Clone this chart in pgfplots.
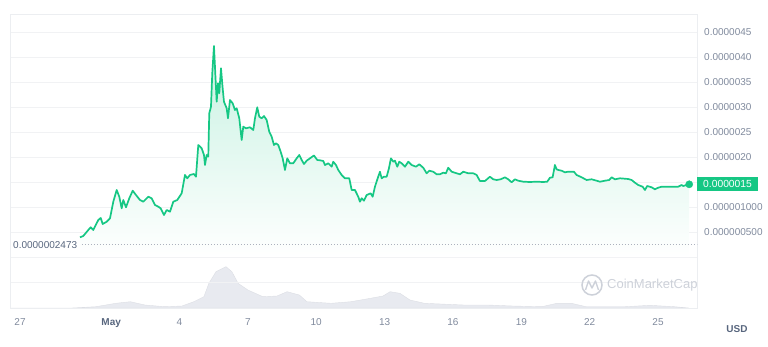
\documentclass[border=0pt]{standalone}
\usepackage{pgfplots}
\pgfplotsset{compat=1.18}
\usepackage{pgfplotstable}
\usepackage{fontspec}
\setmainfont{Liberation Sans}
\definecolor{cmcgreen}{HTML}{16C784}
\definecolor{lblgrey}{HTML}{808A9D}
\definecolor{darkgrey}{HTML}{58667E}
\definecolor{gridc}{HTML}{F1F2F4}
\definecolor{framec}{HTML}{ECEEF1}
\definecolor{volc}{HTML}{E8EAF0}
\definecolor{wm}{HTML}{CDD1D9}

\pgfplotstableread{
d v
2.633 0.394
2.777 0.42
2.997 0.54
3.102 0.594
3.216 0.54
3.436 0.74
3.541 0.78
3.629 0.66
3.804 0.706
3.949 0.774
4.094 1.106
4.243 1.34
4.357 1.206
4.462 0.974
4.533 1.14
4.651 0.994
4.796 1.174
4.945 1.326
5.090 1.24
5.265 1.14
5.410 1.106
5.630 1.206
5.779 1.174
5.924 1.04
6.068 1.006
6.174 0.974
6.319 0.84
6.437 0.94
6.582 0.906
6.727 1.106
6.902 1.14
7.095 1.274
7.240 1.64
7.341 1.574
7.459 1.64
7.635 1.66
7.723 1.606
7.824 2.24
7.973 2.174
8.074 2.04
8.118 1.84
8.192 2.04
8.262 2.006
8.306 2.874
8.381 3.006
8.438 3.674
8.512 4.22
8.570 3.674
8.631 3.106
8.688 3.474
8.745 3.274
8.820 3.774
8.894 3.374
8.951 3.106
9.070 2.974
9.127 2.774
9.215 3.14
9.333 3.074
9.434 2.94
9.509 2.974
9.623 2.774
9.728 2.34
9.798 2.606
9.917 2.574
10.092 2.594
10.237 2.54
10.312 2.774
10.412 2.994
10.500 2.806
10.606 2.774
10.706 2.82
10.825 2.74
10.939 2.506
11.044 2.406
11.145 2.24
11.233 2.274
11.334 2.24
11.439 2.106
11.527 1.974
11.628 1.74
11.729 1.974
11.847 1.874
11.992 1.874
12.141 1.974
12.256 2.04
12.361 1.94
12.462 1.86
12.580 1.926
12.725 1.974
12.900 2.03
13.045 1.94
13.164 1.934
13.309 1.92
13.383 1.84
13.528 1.874
13.677 1.806
13.747 1.906
13.866 1.84
13.967 1.74
14.116 1.64
14.261 1.574
14.450 1.574
14.555 1.34
14.699 1.34
14.844 1.206
14.919 1.106
14.993 1.174
15.094 1.126
15.213 1.24
15.389 1.274
15.476 1.206
15.577 1.406
15.696 1.574
15.796 1.706
15.871 1.574
15.972 1.606
16.091 1.606
16.191 1.774
16.279 1.974
16.380 1.906
16.455 1.926
16.556 1.806
16.643 1.906
16.749 1.874
16.894 1.806
17.038 1.906
17.187 1.84
17.376 1.806
17.521 1.854
17.696 1.786
17.846 1.674
17.960 1.726
18.135 1.706
18.284 1.654
18.429 1.654
18.574 1.686
18.692 1.674
18.793 1.786
18.943 1.706
19.162 1.674
19.307 1.654
19.452 1.706
19.671 1.674
19.891 1.674
20.040 1.64
20.184 1.52
20.404 1.52
20.623 1.606
20.768 1.554
20.917 1.54
21.093 1.554
21.281 1.594
21.426 1.554
21.576 1.494
21.720 1.554
21.865 1.526
22.084 1.506
22.378 1.50
22.672 1.506
22.962 1.50
23.138 1.506
23.256 1.586
23.374 1.594
23.475 1.84
23.550 1.754
23.620 1.74
23.769 1.726
23.914 1.694
24.059 1.706
24.309 1.706
24.427 1.64
24.647 1.594
24.866 1.54
25.086 1.554
25.305 1.526
25.450 1.506
25.669 1.526
25.858 1.54
25.963 1.594
26.108 1.554
26.327 1.574
26.692 1.56
26.841 1.54
26.986 1.486
27.131 1.44
27.324 1.406
27.424 1.34
27.525 1.42
27.718 1.394
27.863 1.354
28.008 1.386
28.157 1.406
28.377 1.406
28.666 1.406
28.885 1.406
29.035 1.44
29.105 1.42
29.254 1.44
29.368 1.454
}\price

\pgfplotstableread{
d vol
-0.44 0
2.28 0
3.33 1.3
4.20 4.7
4.84 6.3
5.48 3
6.35 1.3
7.11 2
7.63 6.3
8.07 11.3
8.29 24.7
8.60 36.3
9.04 41.3
9.30 36.3
9.57 24.7
10.00 18
10.66 11.3
11.28 12
11.72 16.3
12.26 13
12.59 6.3
13.65 4.7
14.52 6.3
15.38 9.7
15.93 12
16.24 16.3
16.67 14.7
17.11 8
17.75 4.7
19.47 3
20.54 3
21.62 2
22.90 1.3
23.56 4.7
24.20 4.7
24.84 1.3
26.57 1.3
27.64 2.7
28.72 1.3
29.35 0
}\volume

\begin{document}
\begin{tikzpicture}[x=1pt,y=1pt]
\useasboundingbox (0,0) rectangle (768,346);
\begin{axis}[at={(10pt,38pt)}, anchor=south west, width=687pt, height=294pt,
  scale only axis, xmin=-0.439, xmax=29.71, ymin=0, ymax=294, hide axis]
\addplot[fill=volc, draw=volc!95!black, line width=0.4pt] table[x=d,y=vol] {\volume} \closedcycle;
\end{axis}
\begin{axis}[at={(10pt,38pt)}, anchor=south west, width=687pt, height=294pt,
  scale only axis, clip=false,
  xmin=-0.439, xmax=29.71, ymin=-1.02, ymax=4.86,
  axis line style={draw=framec, line width=0.7pt},
  ymajorgrids, grid style={draw=gridc, line width=0.7pt},
  major tick length=0pt,
  /pgf/number format/assume math mode=true,
  ytick={-0.5,0,0.5,1,1.5,2,2.5,3,3.5,4,4.5},
  yticklabels={{},{},0.000000500,0.000001000,{},0.0000020,0.0000025,0.0000030,0.0000035,0.0000040,0.0000045},
  yticklabel pos=right,
  yticklabel style={anchor=west, inner sep=0pt, xshift=7pt, font=\fontsize{10}{12}\selectfont, text=lblgrey},
  xtick={0,4,7,10,13,16,19,22,25,28},
  xticklabels={27,{\bfseries\color{darkgrey}May},4,7,10,13,16,19,22,25},
  xticklabel style={anchor=north, inner sep=0pt, yshift=-10pt, font=\fontsize{10}{12}\selectfont, text=lblgrey},
]
\addplot[draw=none, top color=cmcgreen!24, bottom color=white] table[x=d,y=v] {\price} \closedcycle;
\addplot[darkgrey!50, line width=0.8pt, dash pattern=on 1pt off 2pt] coordinates {(2.72,0.2473) (29.71,0.2473)};
\addplot[cmcgreen, line width=1.7pt, line join=round] table[x=d,y=v] {\price};
\addplot[only marks, mark=*, mark size=3.6pt, cmcgreen] coordinates {(29.368,1.454)};
\node[anchor=west, inner sep=0pt, text=darkgrey, font=\fontsize{10}{12}\selectfont] at (axis cs:-0.439,0.2473) [xshift=3pt] {0.0000002473};
\node[anchor=west, fill=cmcgreen, text=white, inner xsep=6pt, inner ysep=0pt, minimum height=14pt, font=\fontsize{10.3}{12}\selectfont] at (axis cs:29.71,1.454) {0.0000015};
\end{axis}
\node[font=\bfseries\fontsize{10}{12}\selectfont, text=darkgrey] at (737,17) {USD};
\draw[wm, line width=1.5pt] (592,61) circle (10);
\draw[wm, line width=1.4pt, line join=round] (585.5,56) -- (588.5,65) -- (592,58) -- (595.5,65) -- (598.5,56);
\node[anchor=west, text=wm, inner sep=0pt, font=\fontsize{13}{15}\selectfont] at (607,61) {CoinMarketCap};
\end{tikzpicture}
\end{document}
